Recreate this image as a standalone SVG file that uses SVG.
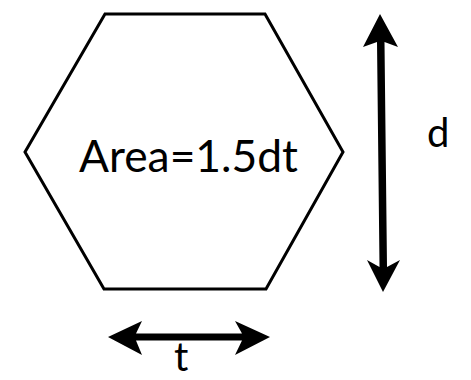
<svg xmlns="http://www.w3.org/2000/svg" width="471" height="380" viewBox="0 0 471 380">
<style>
.lbl{font-family:Lato,"Open Sans","Liberation Sans",sans-serif;fill:#000}
.arr{fill:#000;stroke:none}
</style>
<rect width="471" height="380" fill="#fff"/>
<g id="hexagon">
<polygon points="105,14 265,14 343,152 266,289 104,289 25,152" fill="#fff" stroke="#000" stroke-width="3" stroke-linejoin="miter"/>
<text class="lbl" x="79" y="172" font-size="44" textLength="219" lengthAdjust="spacingAndGlyphs">Area=1.5dt</text>
</g>
<g id="connectors">
<path class="arr" d="M380,14 L398,47 L384.5,42 L387,267 L400,260 L383,292 L367,260 L379.5,267 L377,42 L363,47 Z"/>
<path class="arr" d="M108,337 L142,321 L136,333.5 L242,333.5 L235,321 L270,337 L235,355 L242,340.5 L136,340.5 L142,355 Z"/>
</g>
<g id="label-d"><text class="lbl" x="427" y="147" font-size="40">d</text></g>
<g id="label-t"><text class="lbl" x="174" y="371" font-size="40">t</text></g>
</svg>
